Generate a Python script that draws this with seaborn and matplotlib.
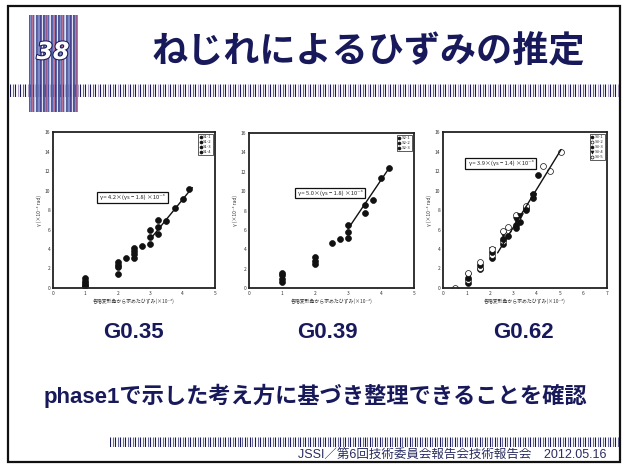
import numpy as np
import pandas as pd
import seaborn as sns
import matplotlib.pyplot as plt
import matplotlib.patheffects as pe
from matplotlib.patches import Rectangle

# ---- G0.35 ----
g035_x = [1, 1, 1, 1, 1, 2, 2, 2, 2, 2.25, 2.5, 2.5, 2.5, 2.5, 2.75,
          3, 3, 3, 3.25, 3.25, 3.25, 3.5, 3.75, 4.0, 4.2]
g035_y = [1.0, 0.7, 0.5, 0.35, 0.2, 2.7, 2.4, 2.2, 1.4, 3.1, 4.1, 3.8, 3.5, 3.1, 4.3,
          4.5, 5.2, 5.9, 7.0, 6.3, 5.5, 6.9, 8.2, 9.1, 10.2]
g035_series = ["S1-1", "S1-2", "S1-3", "S1-4", "S1-1", "S1-2", "S1-3", "S1-4", "S1-1",
               "S1-2", "S1-3", "S1-4", "S1-1", "S1-2", "S1-3", "S1-4", "S1-1", "S1-2",
               "S1-3", "S1-4", "S1-1", "S1-2", "S1-3", "S1-4", "S1-1"]
g035_fit_x = [3.0, 4.3]
g035_fit_y = [5.0, 10.3]
g035_eq = "γ = 4.2×(γs − 1.8) ×10⁻³"

# ---- G0.39 ----
g039_x = [1, 1, 1, 1, 2, 2, 2, 2.5, 2.75, 3, 3, 3, 3.5, 3.5, 3.75, 4.0, 4.25]
g039_y = [1.6, 1.3, 0.9, 0.6, 3.25, 2.75, 2.5, 4.6, 5.1, 5.2, 5.8, 6.5, 7.7, 8.6, 9.1, 11.4, 12.4]
g039_series = ["S2-1", "S2-2", "S2-3", "S2-1", "S2-2", "S2-3", "S2-1", "S2-2", "S2-3",
               "S2-1", "S2-2", "S2-3", "S2-1", "S2-2", "S2-3", "S2-1", "S2-2"]
g039_fit_x = [3.0, 4.25]
g039_fit_y = [6.1, 12.4]
g039_eq = "γ = 5.0×(γs − 1.8) ×10⁻³"

# ---- G0.62 ----
g062_x = [0.53, 1.08, 1.08, 1.08, 1.08, 1.08, 1.57, 1.57, 1.57, 1.57,
          2.08, 2.08, 2.08, 2.08, 2.08, 2.54, 2.54, 2.54, 2.54, 2.54,
          2.78, 2.78, 2.78, 3.1, 3.1, 3.1, 3.1, 3.3, 3.3, 3.55, 3.55, 3.55,
          3.86, 3.86, 3.86, 4.07, 4.28, 4.56, 5.04]
g062_y = [0.0, 0.5, 0.8, 1.0, 1.2, 1.5, 1.9, 2.1, 2.4, 2.7,
          3.1, 3.4, 3.7, 3.9, 4.0, 4.5, 4.8, 5.0, 5.5, 5.8,
          5.3, 5.9, 6.3, 6.2, 6.5, 7.0, 7.5, 6.8, 7.4, 8.0, 8.2, 8.4,
          9.2, 9.4, 9.6, 11.6, 12.5, 12.0, 13.9]
g062_series = ["S3-5", "S3-1", "S3-2", "S3-3", "S3-4", "S3-5", "S3-1", "S3-2", "S3-3", "S3-5",
               "S3-1", "S3-2", "S3-3", "S3-4", "S3-5", "S3-1", "S3-2", "S3-3", "S3-4", "S3-5",
               "S3-1", "S3-2", "S3-5", "S3-1", "S3-3", "S3-4", "S3-2", "S3-1", "S3-4", "S3-3",
               "S3-1", "S3-2", "S3-3", "S3-4", "S3-1", "S3-1", "S3-5", "S3-2", "S3-5"]
g062_fit_x = [2.33, 5.04]
g062_fit_y = [3.6, 14.2]
g062_eq = "γ = 3.9×(γs − 1.4) ×10⁻³"

panel_names = ["G0.35", "G0.39", "G0.62"]
y_ticks = [0, 2, 4, 6, 8, 10, 12, 14, 16]

NAVY = "#18195a"

sns.set_theme(style="white")
plt.rcParams['font.family'] = ['Noto Sans CJK JP', 'DejaVu Sans']

fig = plt.figure(figsize=(6.27, 4.66), dpi=100)
W, H = 627.0, 466.0


def fig_box(x0, y0, x1, y1):
    # pixel box (top-left origin) -> figure fraction rect
    return [x0 / W, 1 - y1 / H, (x1 - x0) / W, (y1 - y0) / H]


def stripes(rect, colors, pitch=2.5, lw=0.8):
    a = fig.add_axes(rect)
    width = rect[2] * W
    pos = np.arange(0, width, pitch)
    a.vlines(pos, 0, 1, colors=[colors[i % len(colors)] for i in range(len(pos))], lw=lw)
    a.set_xlim(0, width)
    a.set_ylim(0, 1)
    a.axis('off')
    return a


# slide frame
fig.patches.append(Rectangle((8 / W, 1 - 462 / H), 612 / W, 456 / H, transform=fig.transFigure,
                             fill=False, edgecolor='#111111', lw=1.6))

# header stripes + number box
stripes(fig_box(10, 84, 619, 97), [NAVY, '#7a5a8c', NAVY, '#b0a0c8'])
stripes(fig_box(29, 15, 78, 112), ['#1f2c7a', '#5a6ab8', '#a04a7a', '#2a3590', '#d8d8f0'],
        pitch=1.5, lw=1.1)
fig.text(53 / W, 1 - 52 / H, "38", color='white', fontsize=17, fontstyle='italic',
         fontweight='bold', ha='center', va='center', family=['DejaVu Sans'],
         path_effects=[pe.withStroke(linewidth=1.5, foreground=NAVY)])
fig.text(368 / W, 1 - 52 / H, "ねじれによるひずみの推定", color=NAVY, fontsize=26,
         fontweight='bold', ha='center', va='center')

# panels: data, fit, equation, x max, axes box, equation box position, label x
panels = [
    (g035_x, g035_y, g035_series, g035_fit_x, g035_fit_y, g035_eq, 5,
     fig_box(53, 132, 215, 288), (2.45, 9.3), 133),
    (g039_x, g039_y, g039_series, g039_fit_x, g039_fit_y, g039_eq, 5,
     fig_box(249, 133, 414, 288), (2.45, 9.8), 327),
    (g062_x, g062_y, g062_series, g062_fit_x, g062_fit_y, g062_eq, 7,
     fig_box(443, 132, 607, 288), (2.45, 12.8), 523),
]
open_series = {"S3-2", "S3-5"}
tri_series = {"S3-4"}

for (px, py, ps, fx, fy, eq, xmax, rect, eqpos, lx), name in zip(panels, panel_names):
    ax = fig.add_axes(rect)
    df = pd.DataFrame({'x': px, 'y': py, 's': ps})
    for sname, sub in df.groupby('s', sort=True):
        face = 'white' if sname in open_series else '#111111'
        mk = 'v' if sname in tri_series else 'o'
        sns.scatterplot(data=sub, x='x', y='y', ax=ax, color=face, edgecolor='#111111',
                        marker=mk, s=18, linewidth=0.5, label=sname)
    sns.lineplot(x=fx, y=fy, ax=ax, color='#111111', lw=1.0)
    ax.set_xlim(0, xmax)
    ax.set_ylim(0, 16)
    ax.set_xticks(range(0, xmax + 1))
    ax.set_yticks(y_ticks)
    ax.tick_params(direction='in', length=2, width=0.5, labelsize=3.5, pad=2, colors='#333333')
    for sp in ax.spines.values():
        sp.set_color('#222222')
        sp.set_linewidth(1.3)
    ax.set_xlabel("各階変形角から求めたひずみ(×10⁻³)", fontsize=3.5, labelpad=2, color='#333333')
    ax.set_ylabel("γ (×10⁻³ rad)", fontsize=3.5, labelpad=2, color='#333333')
    ax.text(eqpos[0], eqpos[1], eq, fontsize=4.2, ha='center', va='center',
            bbox=dict(boxstyle='square,pad=0.4', fc='white', ec='#111111', lw=0.9))
    leg = ax.legend(loc='upper right', fontsize=3, markerscale=0.5, frameon=True, fancybox=False,
                    edgecolor='#111111', handlelength=0.6, handletextpad=0.3, borderpad=0.3,
                    labelspacing=0.2)
    leg.get_frame().set_linewidth(0.6)
    fig.text(lx / W, 1 - 333 / H, name, color=NAVY, fontsize=16, fontweight='bold',
             ha='center', va='center', family=['Liberation Sans', 'DejaVu Sans'])

fig.text(315 / W, 1 - 396 / H, "phase1で示した考え方に基づき整理できることを確認", color=NAVY,
         fontsize=16, fontweight='bold', ha='center', va='center',
         family=['Liberation Sans', 'Noto Sans CJK JP'])

stripes(fig_box(110, 437, 619, 447), [NAVY, '#6a6a9a'])
fig.text(606 / W, 1 - 456 / H, "JSSI／第6回技術委員会報告会技術報告会　2012.05.16", color='#2a2d60',
         fontsize=9, ha='right', va='center', family=['Liberation Sans', 'Noto Sans CJK JP'])

fig.savefig("out.png", dpi=100)
